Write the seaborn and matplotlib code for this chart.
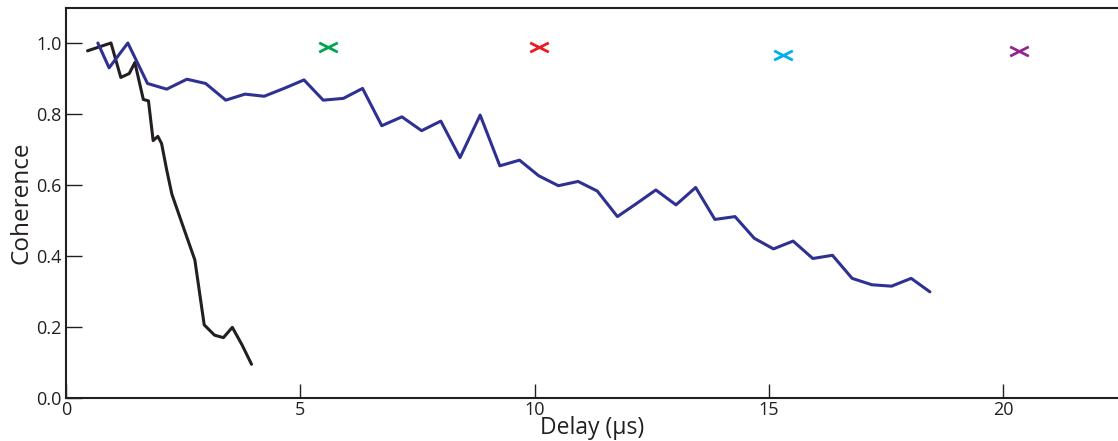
import numpy as np
import pandas as pd
import matplotlib
matplotlib.use("Agg")
import matplotlib.pyplot as plt
from matplotlib.path import Path
import seaborn as sns

# Coherence vs delay, short-lived (black) and long-lived (blue) traces
black_delay = [0.46, 0.96, 1.17, 1.35, 1.47, 1.65, 1.76, 1.86, 1.96, 2.04,
               2.15, 2.26, 2.50, 2.75, 2.95, 3.17, 3.36, 3.55, 3.76, 3.96]
black_coh = [0.978, 1.0, 0.903, 0.914, 0.945, 0.841, 0.837, 0.725, 0.737, 0.717,
             0.642, 0.574, 0.483, 0.389, 0.206, 0.177, 0.170, 0.199, 0.149, 0.095]

blue_delay = [0.68, 0.92, 1.32, 1.74, 2.15, 2.58, 2.98, 3.41, 3.82, 4.23,
              4.67, 5.08, 5.49, 5.92, 6.33, 6.74, 7.17, 7.59, 8.00, 8.41,
              8.84, 9.26, 9.68, 10.09, 10.51, 10.93, 11.34, 11.77, 12.18, 12.59,
              13.02, 13.44, 13.85, 14.28, 14.69, 15.10, 15.52, 15.94, 16.36, 16.78,
              17.20, 17.62, 18.04, 18.44]
blue_coh = [1.0, 0.93, 1.0, 0.886, 0.870, 0.898, 0.886, 0.839, 0.856, 0.850,
            0.873, 0.896, 0.839, 0.844, 0.872, 0.767, 0.792, 0.753, 0.780, 0.677,
            0.797, 0.654, 0.670, 0.626, 0.598, 0.610, 0.583, 0.511, 0.548, 0.586,
            0.544, 0.593, 0.503, 0.511, 0.450, 0.420, 0.442, 0.393, 0.402, 0.337,
            0.319, 0.315, 0.337, 0.299]

# Single-shot points
point_delay = [5.59, 10.10, 15.30, 20.34]
point_coh = [0.989, 0.989, 0.966, 0.978]
point_colors = ["#00a651", "#ed1c24", "#00aeef", "#92278f"]

x_ticks = [0, 5, 10, 15, 20]
y_ticks = [0.0, 0.2, 0.4, 0.6, 0.8, 1.0]

sns.set_theme(style="white")
plt.rcParams["font.family"] = ["Open Sans", "DejaVu Sans"]

fig = plt.figure(figsize=(11.18, 4.41), dpi=100)
ax = fig.add_axes([66 / 1118, 43 / 441, 1 - 66 / 1118, (441 - 43 - 8) / 441])

black_df = pd.DataFrame({"delay": black_delay, "coh": black_coh})
blue_df = pd.DataFrame({"delay": blue_delay, "coh": blue_coh})

sns.lineplot(data=black_df, x="delay", y="coh", sort=False, color="#231f20",
             linewidth=2.2, ax=ax)
sns.lineplot(data=blue_df, x="delay", y="coh", sort=False, color="#2e3192",
             linewidth=2.2, ax=ax)

# flattened cross marker
cross = Path([(-1, -0.5), (1, 0.5), (-1, 0.5), (1, -0.5)],
             [Path.MOVETO, Path.LINETO, Path.MOVETO, Path.LINETO])
for xd, yc, c in zip(point_delay, point_coh, point_colors):
    sns.scatterplot(x=[xd], y=[yc], marker=cross, s=180, color=c, edgecolor=c,
                    linewidth=2.0, ax=ax, zorder=5)

ax.set_xlim(0, (1118 - 66) / 46.85)
ax.set_ylim(0, (398 - 8) / 355)
ax.set_xticks(x_ticks)
ax.set_xticklabels([str(t) for t in x_ticks])
ax.set_yticks(y_ticks)
ax.set_yticklabels([f"{t:.1f}" for t in y_ticks])

ax.tick_params(axis="y", direction="in", length=11.5, width=1.0, pad=3,
               labelsize=13, colors="#231f20", left=True)
ax.tick_params(axis="x", direction="in", length=10, width=1.0, pad=2,
               labelsize=13, colors="#231f20", bottom=True)

for side in ["left", "top", "bottom"]:
    ax.spines[side].set_color("#231f20")
    ax.spines[side].set_linewidth(1.5)
ax.spines["right"].set_visible(False)

ax.set_xlabel("Delay (μs)", fontsize=16.5, color="#231f20", labelpad=-2)
ax.set_ylabel("Coherence", fontsize=17.5, color="#231f20", labelpad=2)

fig.savefig("out.png", dpi=100)
